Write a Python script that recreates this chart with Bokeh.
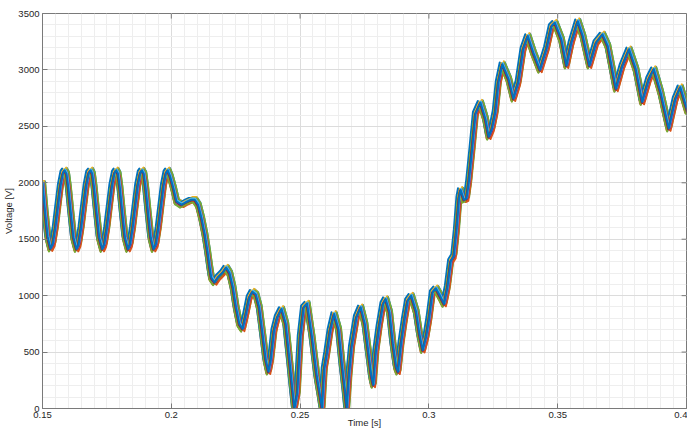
import numpy as np
from bokeh.plotting import figure
from bokeh.models import FixedTicker, Range1d, ColumnDataSource
from bokeh.embed import file_html
from bokeh.resources import INLINE

# ---- data (time in s, voltage in V) ----
time_s = [
    0.1500, 0.1510, 0.1520, 0.1531, 0.1540, 0.1550, 0.1560, 0.1570, 0.1580, 0.1586, 0.1593,
    0.1600, 0.1610, 0.1620, 0.1632, 0.1640, 0.1650, 0.1660, 0.1670, 0.1680, 0.1687, 0.1693,
    0.1700, 0.1710, 0.1720, 0.1732, 0.1740, 0.1750, 0.1760, 0.1770, 0.1780, 0.1786, 0.1793,
    0.1800, 0.1810, 0.1820, 0.1832, 0.1840, 0.1850, 0.1860, 0.1870, 0.1880, 0.1886, 0.1893,
    0.1900, 0.1910, 0.1920, 0.1931, 0.1940, 0.1950, 0.1960, 0.1970, 0.1980, 0.1986,
    0.1995, 0.2008, 0.2020, 0.2040, 0.2059, 0.2078, 0.2091, 0.2104, 0.2117, 0.2130,
    0.2140, 0.2149, 0.2155, 0.2168, 0.2181, 0.2200, 0.2213, 0.2226, 0.2239, 0.2251,
    0.2264, 0.2277, 0.2290, 0.2303, 0.2315, 0.2328, 0.2341, 0.2354, 0.2367, 0.2377,
    0.2386, 0.2399, 0.2412, 0.2428, 0.2444, 0.2456, 0.2469, 0.2478, 0.2489, 0.2501,
    0.2514, 0.2527, 0.2546, 0.2565, 0.2578, 0.2585, 0.2594, 0.2604, 0.2617, 0.2632,
    0.2649, 0.2662, 0.2674, 0.2681, 0.2690, 0.2700, 0.2719, 0.2735, 0.2751, 0.2764,
    0.2777, 0.2784, 0.2794, 0.2807, 0.2822, 0.2832, 0.2847, 0.2860, 0.2873, 0.2880,
    0.2892, 0.2905, 0.2918, 0.2931, 0.2950, 0.2963, 0.2976, 0.2989, 0.3001, 0.3014,
    0.3027, 0.3046, 0.3059, 0.3072, 0.3085, 0.3097, 0.3107, 0.3117, 0.3123, 0.3136,
    0.3146, 0.3155, 0.3168, 0.3181, 0.3200, 0.3219, 0.3232, 0.3245, 0.3258, 0.3270,
    0.3285, 0.3309, 0.3328, 0.3347, 0.3366, 0.3384, 0.3405, 0.3431, 0.3457, 0.3476,
    0.3489, 0.3514, 0.3534, 0.3553, 0.3578, 0.3597, 0.3623, 0.3649, 0.3674, 0.3694,
    0.3726, 0.3751, 0.3777, 0.3803, 0.3828, 0.3854, 0.3873, 0.3899, 0.3931, 0.3957,
    0.3976, 0.4004,
]
voltage_v = [
    2000, 1740, 1520, 1416, 1460, 1600, 1790, 1975, 2090, 2110, 2080,
    1960, 1730, 1515, 1412, 1455, 1600, 1790, 1975, 2090, 2110, 2080,
    1960, 1730, 1515, 1412, 1455, 1600, 1790, 1975, 2090, 2110, 2080,
    1960, 1730, 1515, 1412, 1455, 1600, 1790, 1975, 2090, 2110, 2080,
    1960, 1730, 1515, 1412, 1455, 1600, 1790, 1975, 2090, 2110,
    2060, 1952, 1835, 1805, 1830, 1850, 1850, 1805, 1688, 1541,
    1398, 1249, 1161, 1117, 1161, 1205, 1249, 1200, 1073, 897,
    750, 706, 838, 985, 1035, 1010, 897, 662, 428, 325,
    428, 692, 809, 882, 750, 486, 193, 0, 135, 633,
    897, 930, 633, 281, 106, 0, 350, 486, 692, 838,
    700, 399, 164, 0, 300, 545, 809, 897, 750, 516,
    281, 208, 500, 721, 926, 970, 850, 574, 369, 325,
    574, 780, 956, 1000, 860, 662, 516, 633, 800, 1030,
    1065, 985, 926, 1073, 1308, 1352, 1574, 1864, 1937, 1849,
    1860, 2011, 2304, 2612, 2710, 2568, 2407, 2480, 2627, 2890,
    3051, 2920, 2744, 2890, 3183, 3301, 3154, 3000, 3190, 3388,
    3418, 3271, 3037, 3242, 3432, 3301, 3037, 3242, 3315, 3213,
    2832, 3037, 3183, 3007, 2715, 2920, 3007, 2803, 2480, 2744,
    2847, 2630,
]
assert len(time_s) == len(voltage_v)

# spread of the overlaid runs (time lag in ms, level shift in V)
trace_delay_ms = [0.9, -0.8, 0.6, -0.5, 1.0, -0.7, 0.3, -1.0, 0.7, -0.3, 0.4, -0.6, 0.2, -0.2, 0.0]
trace_offset_v = [20, -15, 25, -20, 10, 0, -10, 15, -20, 10, 5, -25, 10, -5, 0]
palette = ["#0072BD", "#D95319", "#EDB120", "#7E2F8E", "#77AC30", "#4DBEEE", "#A2142F"]

x_ticks = [0.15, 0.2, 0.25, 0.3, 0.35, 0.4]
x_tick_labels = ["0.15", "0.2", "0.25", "0.3", "0.35", "0.4"]
y_ticks = [0, 500, 1000, 1500, 2000, 2500, 3000, 3500]
y_tick_labels = ["0", "500", "1000", "1500", "2000", "2500", "3000", "3500"]

FONT = "Liberation Sans"
TXT = "#262626"
AX = "#7a7a7a"
X0, X1, Y0, Y1 = 0.15, 0.4, 0, 3500

p = figure(width=687, height=430, output_backend="svg", toolbar_location=None,
           x_range=Range1d(X0, X1), y_range=Range1d(Y0, Y1),
           min_border_left=34, min_border_right=1, min_border_top=13, min_border_bottom=16)
p.outline_line_color = AX
p.outline_line_width = 1
p.background_fill_color = "white"
p.border_fill_color = "white"

x_minor = [round(0.15 + 0.005 * i, 4) for i in range(51)]
y_minor = [100 * i for i in range(36)]
xt = FixedTicker(ticks=x_ticks, minor_ticks=x_minor)
yt = FixedTicker(ticks=y_ticks, minor_ticks=y_minor)

for g, t in ((p.xgrid[0], xt), (p.ygrid[0], yt)):
    g.ticker = t
    g.grid_line_color = "#dcdcdc"
    g.grid_line_width = 1
    g.minor_grid_line_color = "#eeeeee"
    g.minor_grid_line_width = 1

def style_axis(ax):
    ax.axis_line_color = AX
    ax.axis_line_width = 1
    ax.major_tick_line_color = AX
    ax.major_tick_in = 5
    ax.major_tick_out = 0
    ax.minor_tick_in = 0
    ax.minor_tick_out = 0
    ax.major_label_text_font = FONT
    ax.major_label_text_font_size = "9.5px"
    ax.major_label_text_color = TXT
    ax.axis_label_text_font = FONT
    ax.axis_label_text_font_size = "9.5px"
    ax.axis_label_text_color = TXT
    ax.axis_label_text_font_style = "normal"

xa = p.xaxis[0]
xa.ticker = xt
xa.major_label_overrides = dict(zip(x_ticks, x_tick_labels))
xa.axis_label = "Time [s]"
style_axis(xa)
xa.major_label_standoff = 3
xa.axis_label_standoff = -4

ya = p.yaxis[0]
ya.ticker = yt
ya.major_label_overrides = dict(zip(y_ticks, y_tick_labels))
ya.axis_label = "Voltage [V]"
style_axis(ya)
ya.major_label_standoff = 3
ya.axis_label_standoff = 1

# data traces (last one, blue, ends on top as in the reference)
for k, (d, o) in enumerate(zip(trace_delay_ms, trace_offset_v)):
    xs = [t + d / 1000.0 for t in time_s]
    ys = [v + o for v in voltage_v]
    p.line(xs, ys, line_color=palette[k % len(palette)], line_width=2, line_join="round")

# inward tick marks on the top and right edges of the box
tick_len_y = 45.0      # ~5 px in voltage units
tick_len_x = 0.0019    # ~5 px in time units
top_src = ColumnDataSource(dict(x=x_ticks, y0=[Y1] * len(x_ticks), y1=[Y1 - tick_len_y] * len(x_ticks)))
p.segment(x0="x", y0="y0", x1="x", y1="y1", source=top_src, line_color=AX, line_width=1)
right_src = ColumnDataSource(dict(y=y_ticks, x0=[X1] * len(y_ticks), x1=[X1 - tick_len_x] * len(y_ticks)))
p.segment(x0="x0", y0="y", x1="x1", y1="y", source=right_src, line_color=AX, line_width=1)

open("out.html", "w").write(file_html(p, INLINE))
